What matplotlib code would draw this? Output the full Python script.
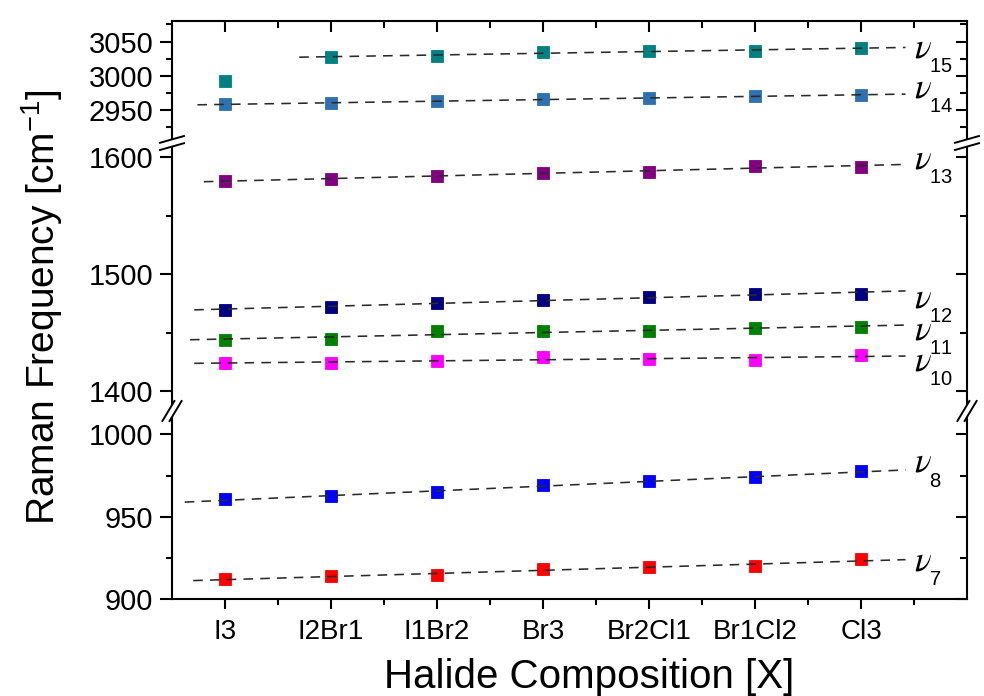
import numpy as np
import matplotlib
matplotlib.use("Agg")
import matplotlib.pyplot as plt
from matplotlib.lines import Line2D
from matplotlib.patches import Polygon

plt.rcParams['font.family'] = ['Liberation Sans', 'DejaVu Sans']
plt.rcParams['mathtext.fontset'] = 'custom'
plt.rcParams['mathtext.rm'] = 'Liberation Sans'
plt.rcParams['mathtext.it'] = 'Liberation Sans:italic'
plt.rcParams['mathtext.bf'] = 'Liberation Sans:bold'

# ---------------- data ----------------
categories = ['I3', 'I2Br1', 'I1Br2', 'Br3', 'Br2Cl1', 'Br1Cl2', 'Cl3']
x = np.arange(1, len(categories) + 1)

v15 = [2992.5, 3027.0, 3029.5, 3035.5, 3036.5, 3036.5, 3040.0]
v14 = [2958.5, 2960.0, 2963.0, 2966.0, 2968.0, 2970.0, 2972.0]
v13 = [1579.5, 1581.0, 1584.0, 1586.5, 1587.5, 1592.5, 1591.5]
v12 = [1469.5, 1472.0, 1475.5, 1478.0, 1480.5, 1483.0, 1483.0]
v11 = [1444.0, 1444.5, 1451.0, 1451.0, 1451.0, 1454.0, 1455.0]
v10 = [1424.0, 1424.0, 1426.0, 1429.0, 1427.5, 1426.5, 1430.5]
v8 = [960.5, 962.5, 965.0, 969.0, 971.5, 974.0, 977.5]
v7 = [912.0, 914.0, 914.5, 918.0, 919.5, 920.0, 924.0]

mode_names = ['15', '14', '13', '12', '11', '10', '8', '7']

# ---------------- layout (pixels) ----------------
W, H = 984, 696
L, R, T, B = 172, 967, 21, 599
BRK1, BRK2 = 143, 411

fig = plt.figure(figsize=(W / 100, H / 100), dpi=100)

def rect(top, bottom):
    return [L / W, 1 - bottom / H, (R - L) / W, (bottom - top) / H]

ax_top = fig.add_axes(rect(T, BRK1))
ax_mid = fig.add_axes(rect(BRK1, BRK2))
ax_bot = fig.add_axes(rect(BRK2, B))

ax_top.set_ylim(2902, 3080)
ax_mid.set_ylim(1383, 1612)
ax_bot.set_ylim(900, 1014.2)

ax_top.set_yticks([2950, 3000, 3050])
ax_top.set_yticks([2925, 2975, 3025, 3075], minor=True)
ax_mid.set_yticks([1400, 1500, 1600])
ax_mid.set_yticks([1450, 1550], minor=True)
ax_bot.set_yticks([900, 950, 1000])
ax_bot.set_yticks([925, 975], minor=True)

SPW = 1.5
for ax in (ax_top, ax_mid, ax_bot):
    ax.set_xlim(0.5, 8.0)
    ax.set_xticks(x)
    ax.set_xticks(np.arange(1.5, 8.0, 1.0), minor=True)
    for s in ax.spines.values():
        s.set_linewidth(SPW)
    ax.spines['top'].set_visible(ax is ax_top)
    ax.spines['bottom'].set_visible(ax is ax_bot)
    tw = ax.twinx()
    tw.set_ylim(ax.get_ylim())
    tw.set_yticks(ax.get_yticks())
    tw.set_yticks(ax.get_yticks(minor=True), minor=True)
    for s in tw.spines.values():
        s.set_visible(False)
    tw.tick_params(axis='y', which='major', direction='in', length=8, width=SPW,
                   right=True, left=False, labelright=False, labelleft=False)
    tw.tick_params(axis='y', which='minor', direction='in', length=5, width=SPW,
                   right=True, left=False)
    ax.tick_params(axis='y', which='major', direction='out', length=8.5, width=SPW,
                   labelsize=21, pad=5, left=True, right=False, labelleft=True)
    ax.tick_params(axis='y', which='minor', direction='out', length=4, width=SPW,
                   left=True, right=False)

ax_top.tick_params(axis='x', which='major', direction='in', length=8, width=SPW,
                   top=True, bottom=False, labelbottom=False, labeltop=False)
ax_top.tick_params(axis='x', which='minor', direction='in', length=5, width=SPW,
                   top=True, bottom=False)
ax_mid.tick_params(axis='x', which='both', top=False, bottom=False,
                   labelbottom=False)
ax_bot.set_xticklabels(categories)
ax_bot.tick_params(axis='x', which='major', direction='out', length=7.5, width=SPW,
                   top=False, bottom=True, labelsize=20, pad=7)
ax_bot.tick_params(axis='x', which='minor', direction='out', length=4, width=SPW,
                   top=False, bottom=True)

# ---------------- series ----------------
series = [
    (v15, '#008080', ax_top, 1, 1.7, 3027.4),
    (v14, '#2f71ae', ax_top, 0, 0.74, 2968.9),
    (v13, '#800080', ax_mid, 0, 0.8, 1590.4),
    (v12, '#000080', ax_mid, 0, 0.71, 1471.3),
    (v11, '#008000', ax_mid, 0, 0.67, 1444.0),
    (v10, '#ff00ff', ax_mid, 0, 0.71, 1417.6),
    (v8, '#0000ff', ax_bot, 0, 0.62, 977.2),
    (v7, '#ff0000', ax_bot, 0, 0.7, 917.6),
]
line_end = 7.42
label_x = 7.5

for (vals, col, ax, i0, xs, lab_y), name in zip(series, mode_names):
    vals = np.asarray(vals)
    ax.plot(x, vals, linestyle='none', marker='s', markersize=8.8,
            markerfacecolor=col, markeredgecolor=col, markeredgewidth=0.6,
            zorder=3)
    k, b = np.polyfit(x[i0:], vals[i0:], 1)
    xx = np.array([xs, line_end])
    ax.plot(xx, k * xx + b, linestyle=(0, (6.0, 4.5)), color='#2a2a2a',
            linewidth=1.15, zorder=4)
    t = ax.annotate(r'$\nu$', xy=(label_x, lab_y), xycoords='data',
                    ha='left', va='baseline', fontsize=25,
                    annotation_clip=False)
    t.set_math_fontfamily('stix')
    ax.annotate(r'$\mathrm{' + name + r'}$', xy=(label_x, lab_y),
                xycoords='data', xytext=(10.8, -10.6),
                textcoords='offset points', ha='left', va='baseline',
                fontsize=14.5, annotation_clip=False)

# ---------------- axis labels ----------------
fig.text(42 / W, 1 - 307 / H, r'Raman Frequency [cm$^{\mathrm{-1}}$]',
         rotation=90, ha='center', va='center', fontsize=28)
fig.text(589 / W, 1 - 688 / H, 'Halide Composition [X]', ha='center',
         va='baseline', fontsize=29)

# ---------------- break marks ----------------
def fx(px):
    return px / W

def fy(py):
    return 1 - py / H

def draw_break(xc, yc, shallow):
    if shallow:
        l1 = [(xc - 12, yc - 3.6 + 3.4), (xc + 12, yc - 3.6 - 3.4)]
        l2 = [(xc - 12, yc + 3.6 + 3.4), (xc + 12, yc + 3.6 - 3.4)]
    else:
        l1 = [(xc - 3.6 - 6, yc + 10), (xc - 3.6 + 6, yc - 10)]
        l2 = [(xc + 3.6 - 6, yc + 10), (xc + 3.6 + 6, yc - 10)]
    poly = [l1[0], l1[1], l2[1], l2[0]]
    fig.add_artist(Polygon([(fx(a), fy(b)) for a, b in poly], closed=True,
                           facecolor='white', edgecolor='none',
                           transform=fig.transFigure, zorder=10))
    for ln in (l1, l2):
        fig.add_artist(Line2D([fx(p[0]) for p in ln], [fy(p[1]) for p in ln],
                              color='black', linewidth=1.4,
                              transform=fig.transFigure, zorder=11))

for xc in (L, R):
    draw_break(xc, BRK1, True)
    draw_break(xc, BRK2, False)

fig.savefig('out.png', dpi=100, facecolor='white')
